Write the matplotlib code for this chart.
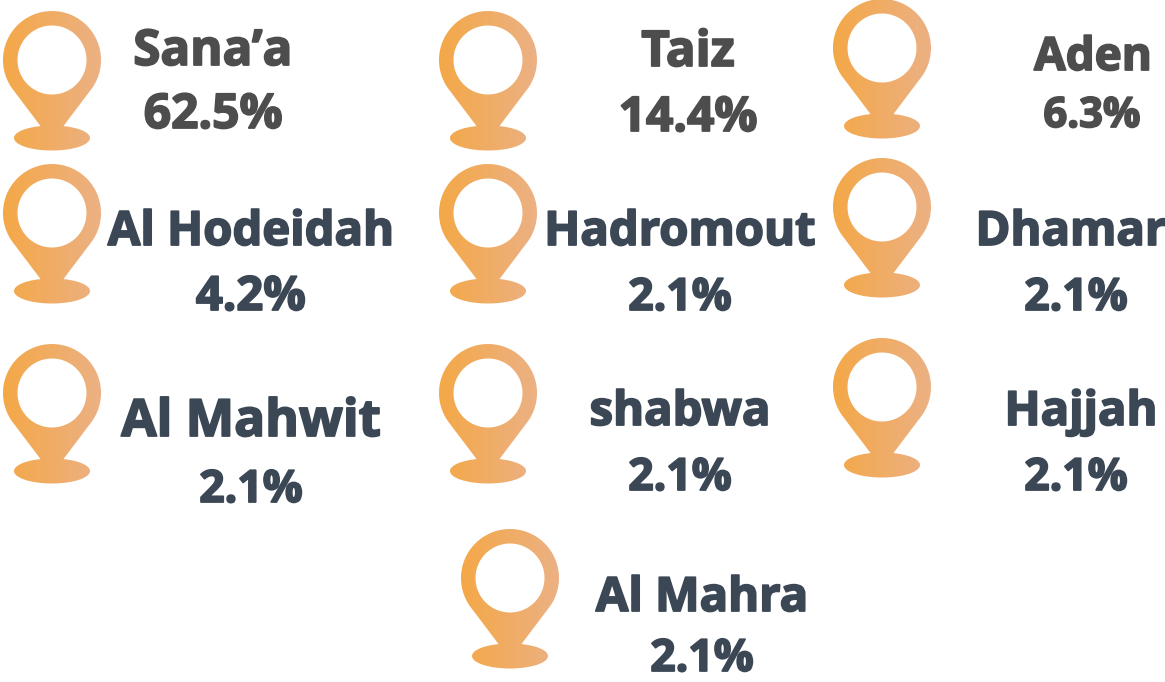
import numpy as np
import matplotlib
matplotlib.use("Agg")
import matplotlib.pyplot as plt
import matplotlib.patheffects as pe
from matplotlib.path import Path
from matplotlib.patches import PathPatch
from matplotlib.colors import LinearSegmentedColormap

# Data
places = ["Sana\u2019a", "Taiz", "Aden", "Al Hodeidah", "Hadromout", "Dhamar",
          "Al Mahwit", "shabwa", "Hajjah", "Al Mahra"]
shares = [62.5, 14.4, 6.3, 4.2, 2.1, 2.1, 2.1, 2.1, 2.1, 2.1]

# Layout (pixel coordinates)
pin_left = [3, 439, 833, 3, 439, 833, 3, 439, 833, 461]
pin_top = [11, 11, -1, 164, 164, 158, 344, 344, 338, 529]
name_x = [213, 688, 1093, 251, 680, 1071, 251, 680, 1081, 702]
name_base = [65, 66, 70, 245, 245, 245, 436, 425, 425, 611]
val_x = [213, 688, 1092, 251, 680, 1076, 251, 680, 1076, 702]
val_base = [128, 131, 127, 310, 310, 310, 502, 490, 490, 671]
name_size = [35.5, 35.5, 33, 34, 34, 34, 37, 34, 34, 34]
val_size = [34.5, 34.5, 30, 34, 32, 32, 32, 32, 32, 32]
colors = ["#4d4d4d", "#4d4d4d", "#4d4d4d"] + ["#3b4754"] * 7

W, H = 1165, 682
fig = plt.figure(figsize=(W / 100, H / 100), dpi=100)
ax = fig.add_axes([0, 0, 1, 1])
ax.set_xlim(0, W)
ax.set_ylim(H, 0)
ax.axis("off")

cmap = LinearSegmentedColormap.from_list("pin", ["#f4a847", "#ecb184"])
grad = np.linspace(0, 1, 256).reshape(1, -1)


def ring(cx, cy, r, a0, a1, n=90, ry=None):
    t = np.radians(np.linspace(a0, a1, n))
    return np.c_[cx + r * np.cos(t), cy + (ry if ry else r) * np.sin(t)]


def pin_path(x0, y0):
    cx, cy = x0 + 49, y0 + 49
    arc = ring(cx, cy, 49, 35, 145 - 360)
    neck = np.array([[cx - 10, y0 + 117], [cx + 10, y0 + 117]])
    outer = np.vstack([arc, neck, arc[:1]])
    inner = ring(cx, cy, 34.5, 0, 360)
    ell = ring(cx, y0 + 127, 38, 0, -360, ry=12.5)
    verts, codes = [], []
    for p in (outer, inner, ell):
        verts.append(p)
        c = [Path.LINETO] * len(p)
        c[0] = Path.MOVETO
        c[-1] = Path.CLOSEPOLY
        codes += c
    return Path(np.vstack(verts), codes)


for x0, y0 in zip(pin_left, pin_top):
    patch = PathPatch(pin_path(x0, y0), fc="none", ec="none", transform=ax.transData)
    ax.add_patch(patch)
    im = ax.imshow(grad, extent=(x0, x0 + 98, y0 + 141, y0), cmap=cmap, aspect="auto",
                   interpolation="bilinear", zorder=2)
    im.set_clip_path(patch)
ax.set_xlim(0, W)
ax.set_ylim(H, 0)

font = ["Open Sans", "DejaVu Sans"]
for i, (name, share) in enumerate(zip(places, shares)):
    for x, y, s, size in ((name_x[i], name_base[i], name, name_size[i]),
                          (val_x[i], val_base[i], f"{share:.1f}%", val_size[i])):
        t = ax.text(x, y, s, ha="center", va="baseline", family=font, weight="bold",
                    fontsize=size, color=colors[i], zorder=3)
        t.set_path_effects([pe.withStroke(linewidth=1.3, foreground=colors[i])])

fig.savefig("out.png", dpi=100, facecolor="white")
